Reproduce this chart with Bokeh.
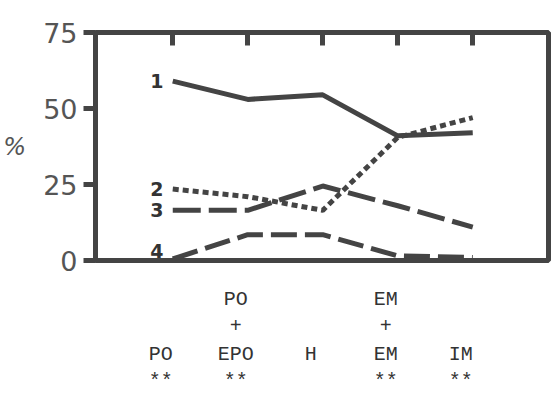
from bokeh.plotting import figure
from bokeh.models import Range1d, LinearAxis, FixedTicker, Label
from bokeh.embed import file_html
from bokeh.resources import INLINE

# ---- data ----
categories = ["PO", "PO+EPO", "H", "EM+EM", "IM"]
xpos = [1, 2, 3, 4, 5]
series1 = [59, 53, 54.5, 41, 42]
series2 = [23.5, 21, 16.5, 40.5, 47]
series3 = [16.5, 16.5, 24.5, 18, 11]
series4 = [0.5, 8.5, 8.5, 1.5, 1]
series_names = ["1", "2", "3", "4"]
y_ticks = [0, 25, 50, 75]
label_top = ["", "PO", "", "EM", ""]
label_mid = ["", "+", "", "+", ""]
label_main = ["PO", "EPO", "H", "EM", "IM"]
label_sig = ["**", "**", "", "**", "**"]

INK = "#444444"

p = figure(width=551, height=404, output_backend="svg", toolbar_location=None,
           x_range=Range1d(-0.03, 6.01), y_range=Range1d(0, 75),
           x_axis_location=None, y_axis_location=None,
           min_border_left=95, min_border_right=3, min_border_top=32, min_border_bottom=144)
p.grid.visible = False
p.outline_line_color = INK
p.outline_line_width = 5
p.background_fill_color = "white"
p.border_fill_color = "white"

# left axis
left = LinearAxis(ticker=FixedTicker(ticks=y_ticks))
left.axis_line_color = None
left.major_tick_line_color = INK
left.major_tick_line_width = 5
left.major_tick_out = 12
left.major_tick_in = 0
left.minor_tick_line_color = None
left.major_label_standoff = 6
left.major_label_text_font = "DejaVu Sans"
left.major_label_text_font_size = "27px"
left.major_label_text_color = "#555555"
left.axis_label = "%"
left.axis_label_orientation = "horizontal"
left.axis_label_standoff = 14
left.axis_label_text_font = "DejaVu Sans"
left.axis_label_text_font_style = "italic"
left.axis_label_text_font_size = "24px"
left.axis_label_text_color = "#555555"
p.add_layout(left, "left")

# top axis with inward ticks at the categories
top = LinearAxis(ticker=FixedTicker(ticks=xpos))
top.axis_line_color = None
top.major_tick_line_color = INK
top.major_tick_line_width = 5
top.major_tick_in = 13
top.major_tick_out = 0
top.minor_tick_line_color = None
top.major_label_text_font_size = "0px"
top.major_label_text_color = None
p.add_layout(top, "above")

# bottom axis carrying the multi-line category labels (slightly shifted like the original)
p.extra_x_ranges = {"lab": Range1d(-0.03 + 0.16, 6.01 + 0.16)}
bottom = LinearAxis(x_range_name="lab", ticker=FixedTicker(ticks=xpos))
bottom.axis_line_color = None
bottom.major_tick_line_color = None
bottom.minor_tick_line_color = None
bottom.major_tick_in = 0
bottom.major_tick_out = 0
bottom.major_label_standoff = 27
bottom.major_label_text_font = "Liberation Mono"
bottom.major_label_text_font_size = "20px"
bottom.major_label_text_color = "#333333"
overrides = {}
for xv, a, b, c, d in zip(xpos, label_top, label_mid, label_main, label_sig):
    overrides[xv] = "\n".join(t if t else " " for t in (a, b, c, d))
bottom.major_label_overrides = overrides
p.add_layout(bottom, "below")

# series lines
p.line(xpos, series1, line_color=INK, line_width=5)
p.line(xpos, series2, line_color=INK, line_width=5, line_dash="6 4")
p.line(xpos, series3, line_color=INK, line_width=5, line_dash="28 8")
p.line(xpos, series4, line_color=INK, line_width=5, line_dash="26 8")

# series labels
starts = [series1[0], series2[0], series3[0], series4[0]]
yoffs = [0, 0, 0, 8]
for name, yv, yo in zip(series_names, starts, yoffs):
    p.add_layout(Label(x=xpos[0], y=yv, x_offset=-16, y_offset=yo, text=name,
                       text_align="center", text_baseline="middle",
                       text_font="DejaVu Sans", text_font_style="bold",
                       text_font_size="19px", text_color="#333333"))

open("out.html", "w").write(file_html(p, INLINE))
